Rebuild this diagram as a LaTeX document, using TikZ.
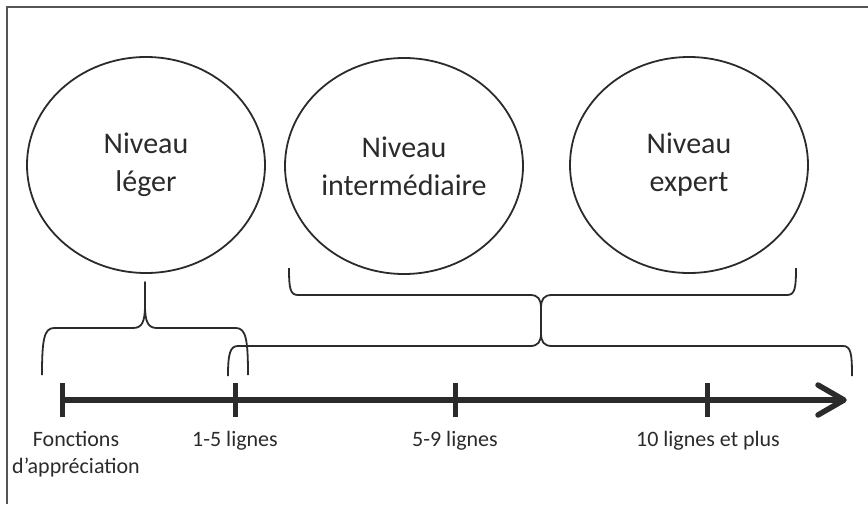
\documentclass[tikz,border=0pt]{standalone}
\usepackage{fontspec}
\setmainfont{Carlito}
\usetikzlibrary{shapes.geometric}
\definecolor{ink}{HTML}{2B2B2B}
\definecolor{framec}{HTML}{555555}
\begin{document}
\begin{tikzpicture}[x=1pt,y=-1pt,
 lvl/.style={ellipse, draw=ink, line width=1.8pt, minimum width=238pt, minimum height=216pt, inner sep=0pt, align=center, font=\fontsize{30}{38}\selectfont, text=ink},
 brace/.style={draw=ink, line width=1.8pt, line join=round},
 axisline/.style={draw=ink, line width=5.5pt},
 tickmark/.style={draw=ink, line width=5pt},
 lbl/.style={font=\fontsize{22}{27}\selectfont, text=ink, align=center}]
\useasboundingbox (0,0) rectangle (868,504);
\draw[framec, line width=1.5pt] (7,504) -- (7,7) -- (868,7);
% levels
\node[lvl] (leger) at (146,165) {Niveau\\léger};
\node[lvl] (inter) at (404,166) {Niveau\\intermédiaire};
\node[lvl] (expert) at (689,165) {Niveau\\expert};
% brace under "léger"
\coordinate (b1l) at (42,375);
\coordinate (b1r) at (248,375);
\coordinate (b1t) at (145,282);
\draw[brace] (b1l) .. controls (42,340) and (44,328) .. (54,328) -- (133,328)
  .. controls (142,328) and (145,322) .. (145,305) -- (b1t) -- (145,305)
  .. controls (145,322) and (148,328) .. (157,328) -- (236,328)
  .. controls (246,328) and (248,340) .. (b1r);
% brace under intermediate + expert
\coordinate (b2l) at (289,268);
\coordinate (b2r) at (796,268);
\coordinate (b2t) at (541,322);
\draw[brace] (b2l) .. controls (289,288) and (290,295) .. (298,295) -- (530,295)
  .. controls (538,295) and (541,299) .. (541,308) -- (b2t) -- (541,308)
  .. controls (541,299) and (544,295) .. (552,295) -- (787,295)
  .. controls (795,295) and (796,288) .. (b2r);
% long lower brace
\coordinate (b3l) at (228,376);
\coordinate (b3r) at (852,376);
\coordinate (b3t) at (541,318);
\draw[brace] (b3l) .. controls (228,354) and (230,346) .. (238,346) -- (530,346)
  .. controls (538,346) and (541,342) .. (541,333) -- (b3t) -- (541,333)
  .. controls (541,342) and (544,346) .. (552,346) -- (843,346)
  .. controls (851,346) and (852,354) .. (b3r);
% axis
\coordinate (a0) at (62,400);
\coordinate (a1) at (235,400);
\coordinate (a2) at (455,400);
\coordinate (a3) at (707,400);
\coordinate (aend) at (844,400);
\draw[axisline] (a0) -- (aend);
\draw[axisline, line cap=round, line join=round] (818,385) -- (aend) -- (818,415);
\foreach \p in {a0,a1,a2,a3}
  \draw[tickmark] ([yshift=-17pt]\p) -- ([yshift=17pt]\p);
% labels
\node[lbl] (l0) at (76,454) {Fonctions\\d’appréciation};
\node[lbl] (l1) at (235,441) {1-5 lignes};
\node[lbl] (l2) at (455,441) {5-9 lignes};
\node[lbl] (l3) at (708,441) {10 lignes et plus};
\end{tikzpicture}
\end{document}
